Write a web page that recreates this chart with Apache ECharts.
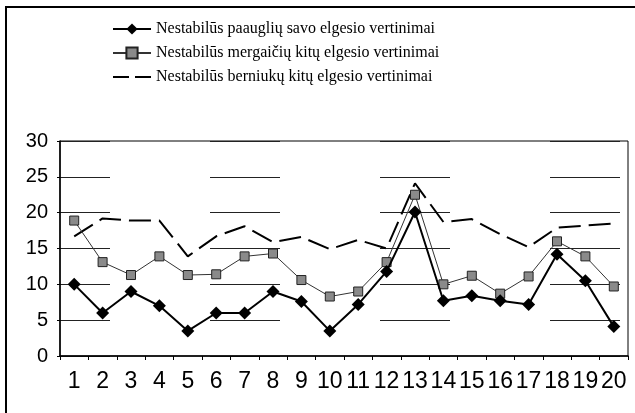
<!DOCTYPE html>
<html>
<head>
<meta charset="utf-8">
<script src="https://cdn.jsdelivr.net/npm/echarts@6/dist/echarts.min.js"></script>
<style>
  html, body { margin: 0; padding: 0; background: #fff; }
  #main { width: 635px; height: 413px; }
</style>
</head>
<body>
<div id="main"></div>
<script>
// categories 1..20
var categories = ['1','2','3','4','5','6','7','8','9','10','11','12','13','14','15','16','17','18','19','20'];
// Nestabilūs paauglių savo elgesio vertinimai
var paaugliuSavo = [10, 6, 9, 7, 3.5, 6, 6, 9, 7.6, 3.5, 7.2, 11.8, 20.1, 7.7, 8.4, 7.7, 7.2, 14.2, 10.5, 4.1];
// Nestabilūs mergaičių kitų elgesio vertinimai
var mergaiciuKitu = [18.9, 13.1, 11.3, 13.9, 11.3, 11.4, 13.9, 14.3, 10.6, 8.3, 9.0, 13.1, 22.5, 10.0, 11.2, 8.7, 11.1, 16.0, 13.9, 9.7];
// Nestabilūs berniukų kitų elgesio vertinimai
var berniukuKitu = [16.7, 19.2, 18.9, 18.9, 13.9, 16.7, 18.1, 15.9, 16.6, 14.9, 16.2, 15.0, 24.1, 18.7, 19.1, 17.0, 15.2, 17.9, 18.2, 18.5];
var seriesNames = [
    'Nestabilūs paauglių savo elgesio vertinimai',
    'Nestabilūs mergaičių kitų elgesio vertinimai',
    'Nestabilūs berniukų kitų elgesio vertinimai'
];

var main = document.getElementById('main');
var myChart = echarts.init(main, null, {renderer: 'canvas'});

var option = {
    backgroundColor: '#fff',
    animation: false,
    graphic: [{
        type: 'rect',
        shape: {x: 6, y: 7, width: 700, height: 500},
        style: {fill: 'none', stroke: '#000', lineWidth: 2}
    }],
    legend: {
        orient: 'vertical',
        left: 107,
        top: 16,
        itemWidth: 38,
        itemHeight: 14,
        itemGap: 8,
        data: [
            {name: seriesNames[0]},
            {name: seriesNames[1]},
            {name: seriesNames[2], itemStyle: {opacity: 0}, lineStyle: {type: [16, 6], dashOffset: 0}}
        ],
        textStyle: {
            fontFamily: 'Liberation Serif',
            fontSize: 16,
            color: '#000'
        }
    },
    grid: {
        left: 60,
        right: 7,
        top: 141,
        bottom: 57,
        show: true,
        borderColor: '#000',
        borderWidth: 1
    },
    xAxis: {
        type: 'category',
        data: categories,
        boundaryGap: true,
        axisLine: {lineStyle: {color: '#000', width: 1.5}},
        axisTick: {show: true, length: 4, lineStyle: {color: '#000'}},
        axisLabel: {
            color: '#000',
            fontFamily: 'Liberation Sans',
            fontSize: 23,
            margin: 14,
            interval: 0
        }
    },
    yAxis: {
        type: 'value',
        min: 0,
        max: 30,
        interval: 5,
        axisLine: {show: true, lineStyle: {color: '#000', width: 1.5}},
        axisTick: {show: true, length: 3, lineStyle: {color: '#000'}},
        axisLabel: {
            color: '#000',
            fontFamily: 'Liberation Sans',
            fontSize: 20,
            margin: 12
        },
        splitLine: {
            show: true,
            lineStyle: {color: '#222', width: 1.2, type: [70, 100], dashOffset: 20}
        }
    },
    series: [{
        name: seriesNames[0],
        type: 'line',
        data: paaugliuSavo,
        symbol: 'diamond',
        symbolSize: 13,
        itemStyle: {color: '#000'},
        lineStyle: {color: '#000', width: 2},
        z: 4
    }, {
        name: seriesNames[1],
        type: 'line',
        data: mergaiciuKitu,
        symbol: 'rect',
        symbolSize: 9,
        itemStyle: {color: '#8a8a8a', borderColor: '#222', borderWidth: 1},
        lineStyle: {color: '#333', width: 1},
        z: 3
    }, {
        name: seriesNames[2],
        type: 'line',
        data: berniukuKitu,
        symbol: 'none',
        itemStyle: {color: '#000'},
        lineStyle: {color: '#000', width: 2, type: [22, 8]},
        z: 2
    }]
};
myChart.setOption(option);
window.onresize = myChart.resize;
</script>
</body>
</html>
